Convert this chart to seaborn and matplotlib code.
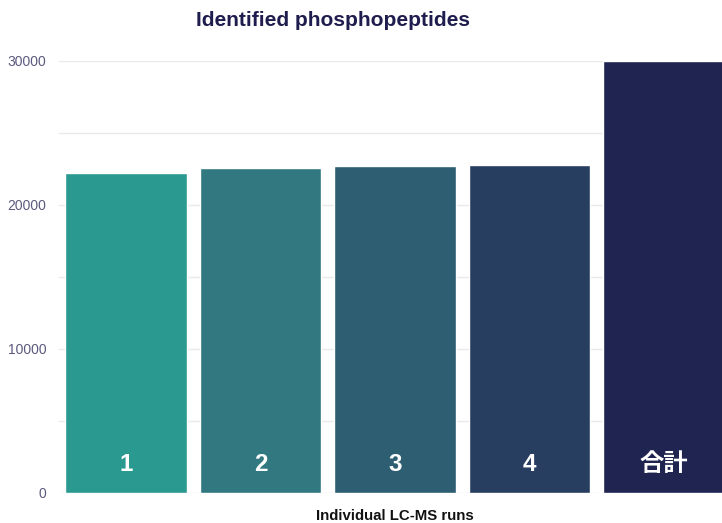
import matplotlib
matplotlib.use("Agg")
import matplotlib.pyplot as plt
import seaborn as sns
import pandas as pd

# Identified phosphopeptides per LC-MS run and the combined total
runs = ["1", "2", "3", "4", "合計"]
counts = [22200, 22560, 22680, 22780, 30000]
bar_colors = ["#2a9990", "#317880", "#2d5e72", "#283e60", "#1f2450"]
ytick_values = [0, 10000, 20000, 30000]
grid_values = [0, 5000, 10000, 15000, 20000, 25000, 30000]

sns.set_theme(style="white")
plt.rcParams["font.family"] = ["Liberation Sans", "Noto Sans CJK JP", "DejaVu Sans"]

df = pd.DataFrame({"run": runs, "count": counts})

fig = plt.figure(figsize=(7.22, 5.23), dpi=100)
ax = fig.add_axes([59 / 722, 30 / 523, 672 / 722, 432 / 523])

for g in grid_values:
    ax.axhline(g, color="#e9e9ee", linewidth=1.0, zorder=0)

sns.barplot(data=df, x="run", y="count", hue="run", palette=bar_colors,
            order=runs, hue_order=runs, width=0.905, legend=False,
            saturation=1, ax=ax, zorder=2)

ax.set_xlim(-0.5, 4.5)
ax.set_ylim(0, 30000)
ax.set_yticks(ytick_values)
ax.set_yticklabels([str(v) for v in ytick_values], color="#5b5a7e", fontsize=10)
ax.tick_params(axis="y", length=0, pad=9)
ax.set_xticks([])
ax.set_xlabel("")
ax.set_ylabel("")
for s in ax.spines.values():
    s.set_visible(False)

for i, r in enumerate(runs):
    ax.text(i, 2000, r, ha="center", va="center", color="white",
            fontsize=17.5, fontweight="bold",
            family=["Liberation Sans", "Noto Sans CJK JP"])

fig.text(333 / 722, 1 - 20 / 523, "Identified phosphopeptides", ha="center",
         va="center", fontsize=15, fontweight="bold", color="#1e1d4d")
fig.text(395 / 722, 1 - 516 / 523, "Individual LC-MS runs", ha="center",
         va="center", fontsize=10.8, fontweight="bold", color="#111111")

fig.savefig("out.png", dpi=100)
